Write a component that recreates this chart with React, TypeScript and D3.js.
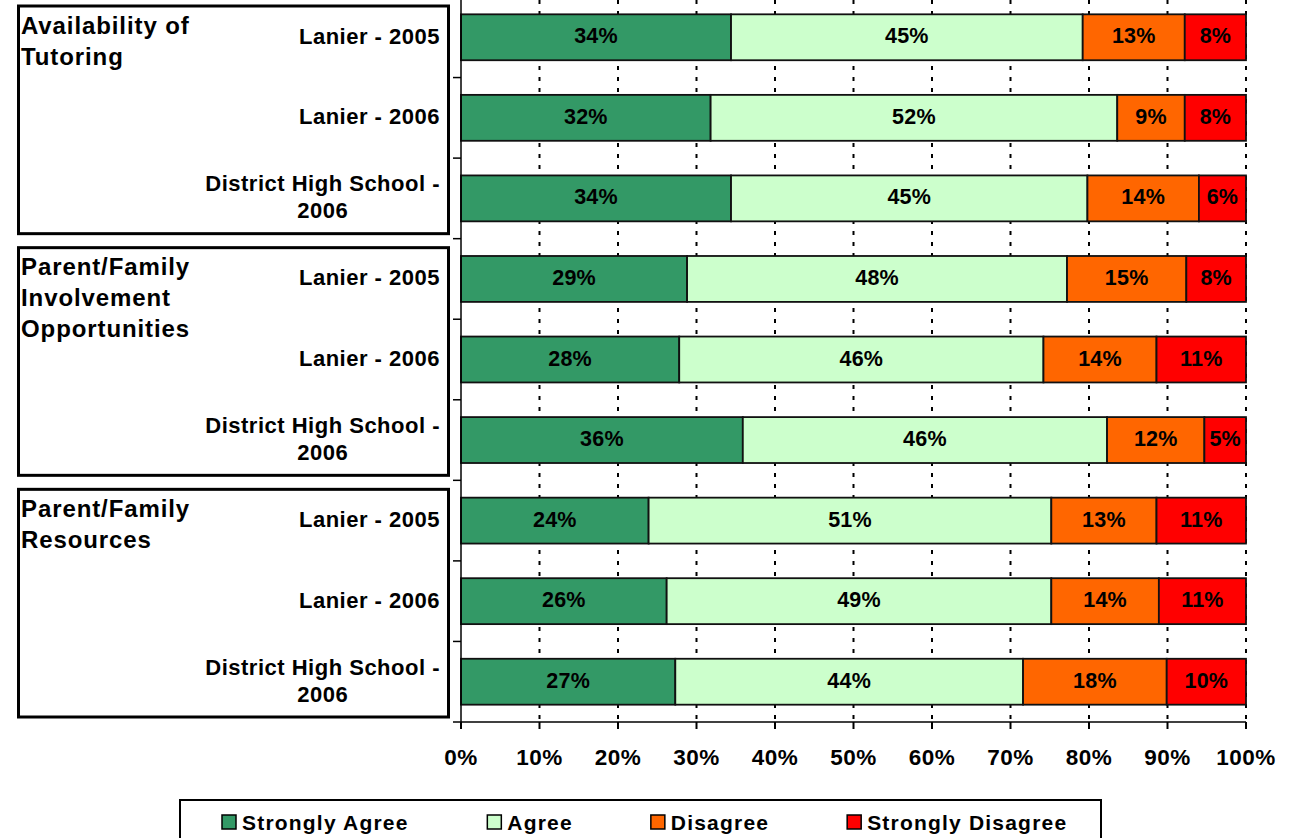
import * as d3 from 'd3';
import React from 'react';

// survey groups and the three sources compared inside each group
const groupLabels = [
  ['Availability of', 'Tutoring'],
  ['Parent/Family', 'Involvement', 'Opportunities'],
  ['Parent/Family', 'Resources'],
];
const schoolLabels = [['Lanier - 2005'], ['Lanier - 2006'], ['District High School -', '2006']];

const seriesNames = ['Strongly Agree', 'Agree', 'Disagree', 'Strongly Disagree'];
const seriesColors = ['#339966', '#CCFFCC', '#FF6600', '#FF0000'];

// percentages, one per bar (top to bottom)
const stronglyAgree = [34.4, 31.8, 34.4, 28.8, 27.8, 35.9, 23.9, 26.2, 27.3];
const agree = [44.8, 51.8, 45.4, 48.4, 46.4, 46.4, 51.3, 49.0, 44.3];
const disagree = [13.0, 8.6, 14.2, 15.2, 14.4, 12.4, 13.4, 13.7, 18.3];
const stronglyDisagree = [7.8, 7.8, 6.0, 7.6, 11.4, 5.3, 11.4, 11.1, 10.1];

const xTicks = [0, 10, 20, 30, 40, 50, 60, 70, 80, 90, 100];

const FONT = '"Liberation Sans", Arial, Helvetica, sans-serif';

const W = 1291;
const H = 838;

let ctx: CanvasRenderingContext2D | null = null;
function textWidth(s: string, size: number, spacing: number) {
  if (!ctx) ctx = document.createElement('canvas').getContext('2d');
  if (!ctx) return s.length * size * 0.55;
  ctx.font = `bold ${size}px ${FONT}`;
  return ctx.measureText(s).width + spacing * s.length;
}

export default function App() {
  const rowIds = d3.range(stronglyAgree.length).map(String);
  const table = rowIds.map((id, i) => ({
    id,
    'Strongly Agree': stronglyAgree[i],
    Agree: agree[i],
    Disagree: disagree[i],
    'Strongly Disagree': stronglyDisagree[i],
  }));
  const stacked = d3.stack<any>().keys(seriesNames)(table);

  const x = d3.scaleLinear().domain([0, 100]).range([461, 1246]);
  const y = d3.scaleBand().domain(rowIds).range([-3, 722]).paddingInner(0.43).paddingOuter(0.215);
  const step = y.step();
  const plotTop = y.range()[0];
  const plotBottom = y.range()[1];

  const boundaries = d3.range(rowIds.length + 1).map((k) => plotTop + k * step);

  // legend layout
  const legendSize = 21;
  const legendLs = 1.2;
  let lx = 222;
  const legendItems = seriesNames.map((name, i) => {
    const item = { name, color: seriesColors[i], x: lx };
    lx += 14 + 6 + textWidth(name, legendSize, legendLs) + 78;
    return item;
  });

  return (
    <svg
      width={W}
      height={H}
      style={{ position: 'absolute', left: 0, top: 0, background: '#fff' }}
      fontFamily={FONT}
      fontWeight="bold"
    >
      {/* vertical dashed gridlines */}
      {xTicks.slice(1).map((t) => (
        <line
          key={'g' + t}
          x1={x(t)}
          x2={x(t)}
          y1={0}
          y2={plotBottom}
          stroke="#000"
          strokeWidth={2}
          strokeDasharray="4,7"
        />
      ))}

      {/* bars */}
      {stacked.map((layer, si) => (
        <g key={layer.key}>
          {layer.map((d: any, i: number) => {
            const x0 = x(d[0]);
            const x1 = x(d[1]);
            const by = y(rowIds[i]) as number;
            const v = d[1] - d[0];
            return (
              <g key={i}>
                <rect
                  x={x0}
                  y={by}
                  width={x1 - x0}
                  height={y.bandwidth()}
                  fill={seriesColors[si]}
                  stroke="#111"
                  strokeWidth={1.8}
                />
                <text
                  x={(x0 + x1) / 2}
                  y={by + y.bandwidth() / 2 - 1}
                  textAnchor="middle"
                  dominantBaseline="central"
                  fontSize={21.5}
                  letterSpacing={0.2}
                  fill="#000"
                >
                  {Math.round(v) + '%'}
                </text>
              </g>
            );
          })}
        </g>
      ))}

      {/* y axis */}
      <line x1={x(0)} x2={x(0)} y1={0} y2={plotBottom} stroke="#000" strokeWidth={1.5} />
      {boundaries.map((b, k) => (
        <line key={'yt' + k} x1={x(0) - 8} x2={x(0)} y1={b} y2={b} stroke="#000" strokeWidth={1.5} />
      ))}

      {/* x axis */}
      <line x1={x(0)} x2={x(100)} y1={plotBottom} y2={plotBottom} stroke="#000" strokeWidth={1.5} />
      {xTicks.map((t) => (
        <g key={'xt' + t}>
          <line x1={x(t)} x2={x(t)} y1={plotBottom} y2={plotBottom + 7} stroke="#000" strokeWidth={2} />
          <text
            x={x(t)}
            y={plotBottom + 35}
            textAnchor="middle"
            dominantBaseline="central"
            fontSize={22.5}
            letterSpacing={0.5}
          >
            {t + '%'}
          </text>
        </g>
      ))}

      {/* group boxes with labels */}
      {groupLabels.map((lines, g) => {
        const top = plotTop + g * 3 * step + 9;
        const bottom = plotTop + (g + 1) * 3 * step - 5;
        return (
          <g key={'box' + g}>
            <rect x={18.5} y={top} width={430} height={bottom - top} fill="none" stroke="#000" strokeWidth={3} />
            {lines.map((ln, li) => (
              <text key={li} x={21} y={top + 19 + li * 31} dominantBaseline="central" fontSize={24} letterSpacing={0.9}>
                {ln}
              </text>
            ))}
          </g>
        );
      })}

      {/* row labels */}
      {rowIds.map((id, i) => {
        const lines = schoolLabels[i % 3];
        const cy = (y(id) as number) + y.bandwidth() / 2 - 1;
        const size = 22;
        const ls = 0.5;
        const w0 = textWidth(lines[0], size, ls);
        const cx = 440 - w0 / 2;
        return (
          <g key={'rl' + i}>
            {lines.map((ln, li) => (
              <text
                key={li}
                x={cx}
                y={cy + (li - (lines.length - 1) / 2) * 27}
                textAnchor="middle"
                dominantBaseline="central"
                fontSize={size}
                letterSpacing={ls}
              >
                {ln}
              </text>
            ))}
          </g>
        );
      })}

      {/* legend */}
      <rect x={180} y={800} width={921} height={50} fill="#fff" stroke="#000" strokeWidth={2} />
      {legendItems.map((it) => (
        <g key={it.name}>
          <rect x={it.x} y={815} width={14} height={14} fill={it.color} stroke="#000" strokeWidth={1.5} />
          <text x={it.x + 20} y={822} dominantBaseline="central" fontSize={legendSize} letterSpacing={legendLs}>
            {it.name}
          </text>
        </g>
      ))}
    </svg>
  );
}
